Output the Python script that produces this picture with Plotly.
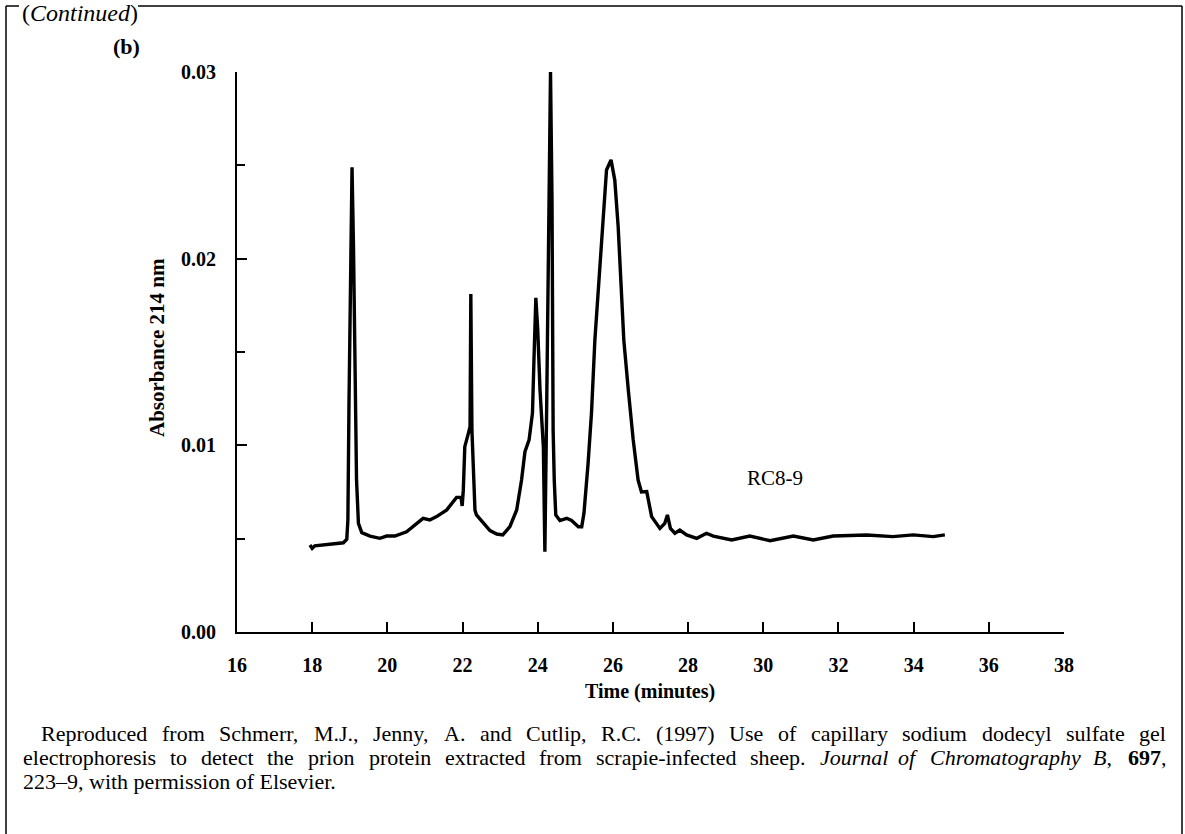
import re
import plotly.graph_objects as go

# Electropherogram trace (Time in minutes, Absorbance 214 nm)
time_min = [17.94, 18.00, 18.07, 18.47, 18.83, 18.92, 18.95, 18.98, 19.01, 19.03,
            19.06, 19.10, 19.14, 19.18, 19.23, 19.32, 19.54, 19.80, 19.98, 20.20,
            20.51, 20.78, 20.95, 21.13, 21.31, 21.58, 21.75, 21.84, 21.96, 21.99,
            22.02, 22.06, 22.15, 22.20, 22.22, 22.25, 22.30, 22.33, 22.37, 22.55,
            22.73, 22.91, 23.07, 23.26, 23.44, 23.57, 23.66, 23.77, 23.86, 23.90,
            23.95, 24.00, 24.06, 24.15, 24.19, 24.24, 24.30, 24.34, 24.38, 24.41,
            24.44, 24.48, 24.59, 24.77, 24.90, 25.08, 25.17, 25.23, 25.34, 25.43,
            25.52, 25.65, 25.83, 25.95, 26.05, 26.14, 26.29, 26.41, 26.54, 26.67,
            26.76, 26.90, 27.03, 27.25, 27.38, 27.45, 27.53, 27.65, 27.78, 27.96,
            28.23, 28.49, 28.67, 29.16, 29.64, 30.18, 30.80, 31.33, 31.86, 32.75,
            33.45, 33.99, 34.52, 34.83]
absorbance = [0.00466, 0.00448, 0.00462, 0.00471, 0.00478, 0.00497, 0.0060, 0.0124, 0.0162, 0.0205,
              0.0249, 0.0205, 0.0124, 0.00814, 0.00582, 0.00532, 0.00514, 0.00502, 0.00514, 0.00514,
              0.00537, 0.00582, 0.00609, 0.0060, 0.00618, 0.00654, 0.00703, 0.00721, 0.00721, 0.00675,
              0.0076, 0.00993, 0.0106, 0.0110, 0.0181, 0.0108, 0.00814, 0.00654, 0.00627, 0.00582,
              0.00543, 0.00525, 0.0052, 0.00564, 0.00654, 0.00814, 0.00966, 0.01029, 0.01172, 0.0146,
              0.0179, 0.0162, 0.0130, 0.0099, 0.0043, 0.0124, 0.0231, 0.0300, 0.0231, 0.0108,
              0.0081, 0.00627, 0.00597, 0.00609, 0.00597, 0.00564, 0.00564, 0.00636, 0.00904, 0.01172,
              0.01564, 0.01922, 0.02475, 0.02529, 0.02421, 0.02171, 0.01564, 0.01296, 0.01029, 0.00814,
              0.0075, 0.00752, 0.00618, 0.00555, 0.00582, 0.00627, 0.00555, 0.00529, 0.00546, 0.0052,
              0.00502, 0.00529, 0.00514, 0.00493, 0.00514, 0.00489, 0.00514, 0.00493, 0.00514, 0.0052,
              0.00511, 0.0052, 0.00511, 0.0052]

y_tickvals = [0.00, 0.01, 0.02, 0.03]
y_ticktext = ["0.00", "0.01", "0.02", "0.03"]
x_tickvals = [16, 18, 20, 22, 24, 26, 28, 30, 32, 34, 36, 38]
x_ticktext = ["16", "18", "20", "22", "24", "26", "28", "30", "32", "34", "36", "38"]

sample_label = "RC8-9"
panel_label = "(b)"
continued_label = "Continued"
x_title = "Time (minutes)"
y_title = "Absorbance 214 nm"
caption_lines = [
    "Reproduced from Schmerr, M.J., Jenny, A. and Cutlip, R.C. (1997) Use of capillary sodium dodecyl sulfate gel",
    "electrophoresis to detect the prion protein extracted from scrapie-infected sheep. "
    "<i>Journal</i> <i>of</i> <i>Chromatography</i> <i>B</i>, <b>697</b>,",
    "223–9, with permission of Elsevier.",
]
caption_justify = [True, True, False]

W, H = 1185, 834
L, R, T, B = 237, 1064, 72, 632
PW, PH = R - L, B - T


def px(x):
    return (x - L) / PW


def py(y):
    return (B - y) / PH


SERIF = "Liberation Serif, Times New Roman, serif"

# Times-Roman advance widths (per 1000 em) for text justification
_TW = {' ': 250, '.': 250, ',': 250, '(': 333, ')': 333, '-': 333, '–': 500}
_TW.update({c: 500 for c in "0123456789"})
_TW.update(dict(zip("abcdefghijklmnopqrstuvwxyz",
                    [444, 500, 444, 500, 444, 333, 500, 500, 278, 278, 500, 278, 778,
                     500, 500, 500, 500, 333, 389, 278, 500, 500, 722, 500, 500, 444])))
_TW.update(dict(zip("ABCDEFGHIJKLMNOPQRSTUVWXYZ",
                    [722, 667, 667, 722, 611, 556, 722, 722, 333, 389, 722, 611, 889,
                     722, 722, 556, 722, 667, 556, 611, 722, 722, 944, 722, 722, 611])))


def text_width(s, size):
    plain = re.sub(r"<[^>]+>", "", s)
    return sum(_TW.get(c, 500) for c in plain) * size / 1000.0


fig = go.Figure()
fig.add_trace(go.Scatter(x=time_min, y=absorbance, mode="lines",
                         line=dict(color="black", width=3.4), showlegend=False))

fig.update_layout(
    width=W, height=H,
    margin=dict(l=L, r=W - R, t=T, b=H - B),
    paper_bgcolor="white", plot_bgcolor="white",
    font=dict(family=SERIF, color="black"),
    xaxis=dict(range=[16, 38], tickvals=x_tickvals, ticktext=x_ticktext,
               ticks="inside", ticklen=10, tickwidth=2, tickcolor="black",
               showline=True, linecolor="black", linewidth=2, showgrid=False,
               zeroline=False, ticklabelstandoff=14,
               tickfont=dict(family=SERIF, size=20, color="black", weight="bold")),
    yaxis=dict(range=[0, 0.03], tickvals=y_tickvals, ticktext=y_ticktext,
               ticks="inside", ticklen=10, tickwidth=2, tickcolor="black",
               showline=True, linecolor="black", linewidth=2, showgrid=False,
               zeroline=False, ticklabelstandoff=15,
               minor=dict(dtick=0.005, ticks="inside", ticklen=8, tickwidth=2, tickcolor="black"),
               tickfont=dict(family=SERIF, size=20, color="black", weight="bold")),
)


def paper_text(text, x, y, size, xanchor="center", angle=0):
    return dict(text=text, x=px(x), y=py(y), xref="paper", yref="paper",
                xanchor=xanchor, yanchor="middle", textangle=angle, borderpad=0,
                font=dict(size=size, family=SERIF), showarrow=False)


annos = [
    dict(text=sample_label, x=30.31, y=0.00825, xref="x", yref="y",
         xanchor="center", yanchor="middle",
         font=dict(size=21, family=SERIF), showarrow=False),
    paper_text("<b>" + panel_label + "</b>", 126, 47, 22),
    paper_text("(<i>" + continued_label + "</i>)", 21, 13, 24, xanchor="left"),
    paper_text("<b>" + x_title + "</b>", 650, 691, 20),
    paper_text("<b>" + y_title + "</b>", 157, 348, 21, angle=-90),
]

CAP_SIZE = 22
cap_x0 = [40, 22, 22]
cap_x1 = 1165
cap_y = [733, 757, 781]
for line, just, x0, cy in zip(caption_lines, caption_justify, cap_x0, cap_y):
    if not just:
        annos.append(paper_text(line, x0, cy, CAP_SIZE, xanchor="left"))
        continue
    words = line.split(" ")
    widths = [text_width(w, CAP_SIZE) for w in words]
    gap = (cap_x1 - x0 - sum(widths)) / (len(words) - 1)
    xpos = x0
    for w, wd in zip(words, widths):
        annos.append(paper_text(w, xpos, cy, CAP_SIZE, xanchor="left"))
        xpos += wd + gap
fig.update_layout(annotations=annos)

frame = dict(color="black", width=1.5)
shapes = [
    dict(type="line", xref="paper", yref="paper", x0=px(6), x1=px(6), y0=py(6), y1=py(840), line=frame),
    dict(type="line", xref="paper", yref="paper", x0=px(1182), x1=px(1182), y0=py(6), y1=py(840), line=frame),
    dict(type="line", xref="paper", yref="paper", x0=px(6), x1=px(19), y0=py(6), y1=py(6), line=frame),
    dict(type="line", xref="paper", yref="paper", x0=px(138), x1=px(1182), y0=py(6), y1=py(6), line=frame),
]
fig.update_layout(shapes=shapes)

fig.write_html("out.html", config={"displayModeBar": False},
               post_script="document.body.style.margin='0';document.body.style.overflow='hidden';")
